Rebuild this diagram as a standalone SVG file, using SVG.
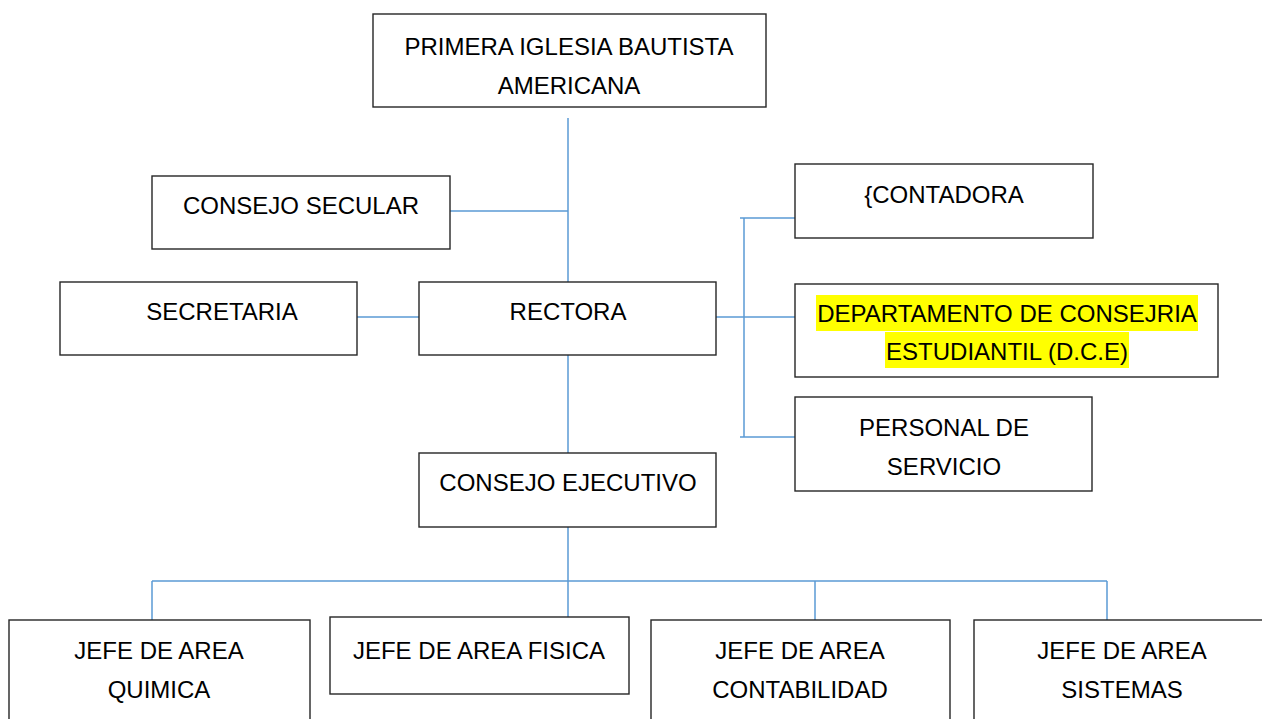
<svg xmlns="http://www.w3.org/2000/svg" width="1262" height="719" viewBox="0 0 1262 719">
<style>
.box{fill:#fff;stroke:#262626;stroke-width:1.4}
.t{font-family:"Liberation Sans",Arial,sans-serif;font-size:24px;fill:#000;text-anchor:middle}
.c{stroke:#5B9BD5;stroke-width:1.5;fill:none}
.hl{fill:#FFFF00}
</style>
<rect width="1262" height="719" fill="#fff"/>
<g id="connectors">
<path class="c" d="M568 118V283M450 211H568M357 317H419M568 355V453M716 317H795M744 218V437M740 218H795M740 437H795M568 527V617M152 581H1107M152 581V620M815 581V620M1107 581V620"/>
</g>
<g id="n-iglesia"><rect class="box" x="373" y="14" width="393" height="93"/><text class="t" x="569" y="55">PRIMERA IGLESIA BAUTISTA</text><text class="t" x="569" y="94">AMERICANA</text></g>
<g id="n-consejo-secular"><rect class="box" x="152" y="176" width="298" height="73"/><text class="t" x="301" y="214">CONSEJO SECULAR</text></g>
<g id="n-secretaria"><rect class="box" x="60" y="282" width="297" height="73"/><text class="t" x="222" y="320">SECRETARIA</text></g>
<g id="n-rectora"><rect class="box" x="419" y="282" width="297" height="73"/><text class="t" x="568" y="320">RECTORA</text></g>
<g id="n-contadora"><rect class="box" x="795" y="164" width="298" height="74"/><text class="t" x="944" y="203">{CONTADORA</text></g>
<g id="n-dce"><rect class="box" x="795" y="284" width="423" height="93"/><rect class="hl" x="816" y="295" width="382" height="36"/><rect class="hl" x="885" y="332" width="244" height="36"/><text class="t" x="1007" y="322">DEPARTAMENTO DE CONSEJRIA</text><text class="t" x="1007" y="360">ESTUDIANTIL (D.C.E)</text></g>
<g id="n-personal"><rect class="box" x="795" y="397" width="297" height="94"/><text class="t" x="944" y="436">PERSONAL DE</text><text class="t" x="944" y="475">SERVICIO</text></g>
<g id="n-consejo-ejecutivo"><rect class="box" x="419" y="453" width="297" height="74"/><text class="t" x="568" y="491">CONSEJO EJECUTIVO</text></g>
<g id="n-quimica"><rect class="box" x="9" y="620" width="301" height="110"/><text class="t" x="159" y="659">JEFE DE AREA</text><text class="t" x="159" y="698">QUIMICA</text></g>
<g id="n-fisica"><rect class="box" x="330" y="617" width="299" height="77"/><text class="t" x="479" y="659">JEFE DE AREA FISICA</text></g>
<g id="n-contabilidad"><rect class="box" x="651" y="620" width="299" height="110"/><text class="t" x="800" y="659">JEFE DE AREA</text><text class="t" x="800" y="698">CONTABILIDAD</text></g>
<g id="n-sistemas"><rect class="box" x="974" y="620" width="300" height="110"/><text class="t" x="1122" y="659">JEFE DE AREA</text><text class="t" x="1122" y="698">SISTEMAS</text></g>
</svg>
